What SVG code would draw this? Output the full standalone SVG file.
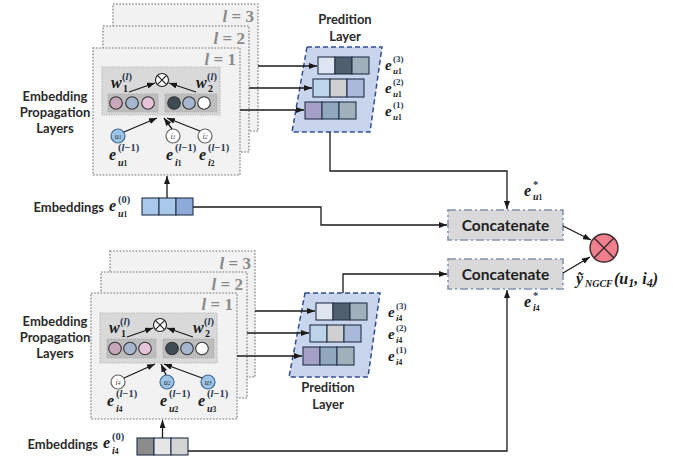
<svg xmlns="http://www.w3.org/2000/svg" width="673" height="465" viewBox="0 0 673 465">
  <defs>
    <marker id="arr" viewBox="0 0 8 6" refX="8" refY="3" markerWidth="8" markerHeight="6" markerUnits="userSpaceOnUse" orient="auto">
      <path d="M0,0 L8,3 L0,6 z" fill="#1a1a1a"/>
    </marker>
    <style>
      .lbl { font-family: Lato, "Open Sans", sans-serif; font-weight: bold; font-size: 13px; fill: #2b2b2b; }
      .cat { font-family: Lato, "Open Sans", sans-serif; font-weight: bold; font-size: 15.5px; fill: #1f1f1f; }
      .layer { fill: #f2f2f2; stroke: #9a9a9a; stroke-width: 1.6; stroke-dasharray: 1.6 1.6; }
      .lnum { font-family: "Liberation Serif", serif; font-weight: bold; font-size: 17px; fill: #8a8a8a; }
      .panel { fill: #d9d9d9; stroke: #b4b4b4; stroke-width: 1.2; stroke-dasharray: 1.2 1.2; }
      .sub { fill: #bdbdbd; stroke: #a8a8a8; stroke-width: 1; stroke-dasharray: 1 1; }
      .dot { stroke: #333; stroke-width: 1.1; }
      .node { stroke-width: 1.2; }
      .nu { fill: #9dc3e6; stroke: #3f6a95; }
      .ni { fill: #ffffff; stroke: #666; }
      .nt { font-family: "Liberation Serif", serif; font-style: italic; font-size: 8px; fill: #333; text-anchor: middle; }
      .ox { fill: #fff; stroke: #222; stroke-width: 1.2; }
      .oxl { stroke: #222; stroke-width: 1.2; }
      .cell { stroke: #24324a; stroke-width: 1.1; }
      .pred { fill: #c8d5ec; stroke: #2f4f8f; stroke-width: 1.5; stroke-dasharray: 5 3; }
      .concat { fill: #d9d9d9; stroke: #8293ad; stroke-width: 1.6; stroke-dasharray: 8 3 2 3; }
      .wire { fill: none; stroke: #1a1a1a; stroke-width: 1.3; }
      .e { font-family: "Liberation Serif", serif; font-style: italic; font-weight: bold; font-size: 16px; fill: #1a1a1a; }
      .sp { font-family: "Liberation Serif", serif; font-weight: bold; font-size: 10.5px; fill: #2c3a55; }
      .sb { font-family: "Liberation Serif", serif; font-style: italic; font-weight: bold; font-size: 10px; fill: #1a1a1a; }
      .pe { font-size: 15px; }
      .ps { font-size: 9px; }
      .it { font-style: italic; }
      .s2 { font-size: 7.5px; font-style: normal; }
    </style>
  </defs>

  <!-- user-side propagation layers -->
  <g id="user-layers">
    <rect class="layer" x="113" y="4" width="145" height="127"/>
    <text class="lnum" x="254" y="22" text-anchor="end"><tspan class="it">l</tspan> = 3</text>
    <rect class="layer" x="103" y="26" width="146" height="126"/>
    <text class="lnum" x="245" y="44" text-anchor="end"><tspan class="it">l</tspan> = 2</text>
    <rect class="layer" x="93" y="48" width="147" height="127"/>
    <text class="lnum" x="236" y="65" text-anchor="end"><tspan class="it">l</tspan> = 1</text>

    <rect class="panel" x="102" y="67" width="118" height="48"/>
    <rect class="sub" x="108" y="94" width="50" height="18"/>
    <rect class="sub" x="165" y="94" width="52" height="18"/>
    <circle class="dot" cx="116" cy="103" r="6.3" fill="#c9a7b9"/>
    <circle class="dot" cx="132" cy="103" r="6.3" fill="#a7b7cf"/>
    <circle class="dot" cx="148" cy="103" r="6.3" fill="#e6c3d9"/>
    <circle class="dot" cx="174" cy="103" r="6.3" fill="#3f4b53"/>
    <circle class="dot" cx="189" cy="103" r="6.3" fill="#a7b7cf"/>
    <circle class="dot" cx="204" cy="103" r="6.3" fill="#ffffff"/>

    <circle class="ox" cx="162" cy="80" r="6.5"/>
    <path class="oxl" d="M157.4,75.4 L166.6,84.6 M166.6,75.4 L157.4,84.6"/>
    <text class="e" x="111" y="88">w</text>
    <text class="sp" x="122" y="80">(<tspan class="it">l</tspan>)</text>
    <text class="sb" x="123" y="92"><tspan font-style="normal">1</tspan></text>
    <text class="e" x="196" y="88">w</text>
    <text class="sp" x="207" y="80">(<tspan class="it">l</tspan>)</text>
    <text class="sb" x="208" y="92"><tspan font-style="normal">2</tspan></text>
    <path class="wire" d="M129,92 L155,83" marker-end="url(#arr)"/>
    <path class="wire" d="M196,92 L169,83" marker-end="url(#arr)"/>

    <circle class="node nu" cx="118" cy="136" r="7"/>
    <text class="nt" x="118" y="139">u<tspan font-size="5.5">1</tspan></text>
    <circle class="node ni" cx="173" cy="136" r="7"/>
    <text class="nt" x="173" y="139">i<tspan font-size="5.5">1</tspan></text>
    <circle class="node ni" cx="205" cy="136" r="7"/>
    <text class="nt" x="205" y="139">i<tspan font-size="5.5">2</tspan></text>
    <path class="wire" d="M124,132 L157,118" marker-end="url(#arr)"/>
    <path class="wire" d="M172,129 L164,118" marker-end="url(#arr)"/>
    <path class="wire" d="M200,131 L167,118" marker-end="url(#arr)"/>

    <text class="e" x="109" y="160">e</text>
    <text class="sp" x="118" y="151">(<tspan class="it">l</tspan>−1)</text>
    <text class="sb" x="118" y="166">u<tspan class="s2">1</tspan></text>
    <text class="e" x="166" y="160">e</text>
    <text class="sp" x="175" y="151">(<tspan class="it">l</tspan>−1)</text>
    <text class="sb" x="175" y="166">i<tspan class="s2">1</tspan></text>
    <text class="e" x="199" y="160">e</text>
    <text class="sp" x="208" y="151">(<tspan class="it">l</tspan>−1)</text>
    <text class="sb" x="208" y="166">i<tspan class="s2">2</tspan></text>
  </g>

  <g id="user-layers-label">
    <text class="lbl" x="55" y="101" text-anchor="middle">Embedding</text>
    <text class="lbl" x="55" y="117" text-anchor="middle">Propagation</text>
    <text class="lbl" x="55" y="133" text-anchor="middle">Layers</text>
  </g>

  <!-- user initial embedding -->
  <g id="user-embedding">
    <text class="lbl" x="104" y="212" text-anchor="end">Embeddings</text>
    <text class="e" x="109" y="211">e</text>
    <text class="sp" x="118" y="203">(0)</text>
    <text class="sb" x="118" y="217">u<tspan class="s2">1</tspan></text>
    <rect class="cell" x="142" y="198" width="17" height="17" fill="#a9c9eb"/>
    <rect class="cell" x="159" y="198" width="17" height="17" fill="#a9c9eb"/>
    <rect class="cell" x="176" y="198" width="17" height="17" fill="#8eaad9"/>
  </g>

  <!-- user prediction layer -->
  <g id="user-prediction">
    <text class="lbl" x="345" y="24" text-anchor="middle">Predition</text>
    <text class="lbl" x="345" y="41" text-anchor="middle">Layer</text>
    <polygon class="pred" points="307,47 382,47 370,132 292,132"/>
    <rect class="cell" x="318" y="57" width="17" height="17" fill="#dde5f0"/>
    <rect class="cell" x="335" y="57" width="17" height="17" fill="#4f5f6d"/>
    <rect class="cell" x="352" y="57" width="17" height="17" fill="#9fb0bb"/>
    <rect class="cell" x="313" y="79" width="17" height="18" fill="#bed6ec"/>
    <rect class="cell" x="330" y="79" width="17" height="18" fill="#cfcfcf"/>
    <rect class="cell" x="347" y="79" width="17" height="18" fill="#a9b9d9"/>
    <rect class="cell" x="305" y="102" width="17" height="17" fill="#a69fc8"/>
    <rect class="cell" x="322" y="102" width="17" height="17" fill="#8fa8be"/>
    <rect class="cell" x="339" y="102" width="17" height="17" fill="#a0b1bb"/>
    <text class="e pe" x="385" y="70">e</text>
    <text class="sp ps" x="393" y="62">(3)</text>
    <text class="sb ps" x="393" y="74">u<tspan class="s2">1</tspan></text>
    <text class="e pe" x="385" y="93">e</text>
    <text class="sp ps" x="393" y="85">(2)</text>
    <text class="sb ps" x="393" y="97">u<tspan class="s2">1</tspan></text>
    <text class="e pe" x="385" y="116">e</text>
    <text class="sp ps" x="393" y="108">(1)</text>
    <text class="sb ps" x="393" y="120">u<tspan class="s2">1</tspan></text>
  </g>

  <!-- item-side propagation layers -->
  <g id="item-layers">
    <rect class="layer" x="110" y="251" width="145" height="126"/>
    <text class="lnum" x="251" y="269" text-anchor="end"><tspan class="it">l</tspan> = 3</text>
    <rect class="layer" x="101" y="272" width="146" height="126"/>
    <text class="lnum" x="243" y="290" text-anchor="end"><tspan class="it">l</tspan> = 2</text>
    <rect class="layer" x="91" y="293" width="146" height="126"/>
    <text class="lnum" x="233" y="310" text-anchor="end"><tspan class="it">l</tspan> = 1</text>

    <rect class="panel" x="100" y="313" width="117" height="50"/>
    <rect class="sub" x="107" y="339" width="49" height="19"/>
    <rect class="sub" x="163" y="339" width="51" height="19"/>
    <circle class="dot" cx="115" cy="348.5" r="6.3" fill="#c9a7b9"/>
    <circle class="dot" cx="130" cy="348.5" r="6.3" fill="#a7b7cf"/>
    <circle class="dot" cx="145" cy="348.5" r="6.3" fill="#e6c3d9"/>
    <circle class="dot" cx="172" cy="348.5" r="6.3" fill="#3f4b53"/>
    <circle class="dot" cx="187" cy="348.5" r="6.3" fill="#a7b7cf"/>
    <circle class="dot" cx="202" cy="348.5" r="6.3" fill="#ffffff"/>

    <circle class="ox" cx="160" cy="325" r="6.5"/>
    <path class="oxl" d="M155.4,320.4 L164.6,329.6 M164.6,320.4 L155.4,329.6"/>
    <text class="e" x="109" y="333">w</text>
    <text class="sp" x="120" y="325">(<tspan class="it">l</tspan>)</text>
    <text class="sb" x="121" y="337"><tspan font-style="normal">1</tspan></text>
    <text class="e" x="193" y="333">w</text>
    <text class="sp" x="204" y="325">(<tspan class="it">l</tspan>)</text>
    <text class="sb" x="205" y="337"><tspan font-style="normal">2</tspan></text>
    <path class="wire" d="M127,337 L153,328" marker-end="url(#arr)"/>
    <path class="wire" d="M193,337 L167,328" marker-end="url(#arr)"/>

    <circle class="node ni" cx="118" cy="382" r="7"/>
    <text class="nt" x="118" y="385">i<tspan font-size="5.5">4</tspan></text>
    <circle class="node nu" cx="167" cy="382" r="7"/>
    <text class="nt" x="167" y="385">u<tspan font-size="5.5">2</tspan></text>
    <circle class="node nu" cx="208" cy="382" r="7"/>
    <text class="nt" x="208" y="385">u<tspan font-size="5.5">3</tspan></text>
    <path class="wire" d="M124,378 L155,364" marker-end="url(#arr)"/>
    <path class="wire" d="M166,375 L161,364" marker-end="url(#arr)"/>
    <path class="wire" d="M202,378 L164,364" marker-end="url(#arr)"/>

    <text class="e" x="107" y="406">e</text>
    <text class="sp" x="116" y="397">(<tspan class="it">l</tspan>−1)</text>
    <text class="sb" x="116" y="412">i<tspan class="s2">4</tspan></text>
    <text class="e" x="160" y="406">e</text>
    <text class="sp" x="169" y="397">(<tspan class="it">l</tspan>−1)</text>
    <text class="sb" x="169" y="412">u<tspan class="s2">2</tspan></text>
    <text class="e" x="198" y="406">e</text>
    <text class="sp" x="207" y="397">(<tspan class="it">l</tspan>−1)</text>
    <text class="sb" x="207" y="412">u<tspan class="s2">3</tspan></text>
  </g>

  <g id="item-layers-label">
    <text class="lbl" x="55" y="326" text-anchor="middle">Embedding</text>
    <text class="lbl" x="55" y="342" text-anchor="middle">Propagation</text>
    <text class="lbl" x="55" y="358" text-anchor="middle">Layers</text>
  </g>

  <!-- item initial embedding -->
  <g id="item-embedding">
    <text class="lbl" x="98" y="449" text-anchor="end">Embeddings</text>
    <text class="e" x="103" y="448">e</text>
    <text class="sp" x="112" y="440">(0)</text>
    <text class="sb" x="112" y="454">i<tspan class="s2">4</tspan></text>
    <rect class="cell" x="137" y="438" width="17" height="17" fill="#8c8c8c" stroke="#333"/>
    <rect class="cell" x="154" y="438" width="17" height="17" fill="#e6e6e6" stroke="#333"/>
    <rect class="cell" x="171" y="438" width="17" height="17" fill="#d4d4d4" stroke="#333"/>
  </g>

  <!-- item prediction layer -->
  <g id="item-prediction">
    <polygon class="pred" points="305,293 380,293 368,377 289,377"/>
    <rect class="cell" x="316" y="303" width="17" height="17" fill="#e0e6f0"/>
    <rect class="cell" x="333" y="303" width="17" height="17" fill="#4f5f6d"/>
    <rect class="cell" x="350" y="303" width="17" height="17" fill="#a0b0bb"/>
    <rect class="cell" x="310" y="325" width="17" height="17" fill="#bcd4ea"/>
    <rect class="cell" x="327" y="325" width="17" height="17" fill="#d0d0d0"/>
    <rect class="cell" x="344" y="325" width="17" height="17" fill="#a9b9d9"/>
    <rect class="cell" x="303" y="347" width="17" height="18" fill="#a69fc8"/>
    <rect class="cell" x="320" y="347" width="17" height="18" fill="#8fa8be"/>
    <rect class="cell" x="337" y="347" width="17" height="18" fill="#a0b1bb"/>
    <text class="e pe" x="388" y="317">e</text>
    <text class="sp ps" x="396" y="309">(3)</text>
    <text class="sb ps" x="396" y="321">i<tspan class="s2">4</tspan></text>
    <text class="e pe" x="388" y="339">e</text>
    <text class="sp ps" x="396" y="331">(2)</text>
    <text class="sb ps" x="396" y="343">i<tspan class="s2">4</tspan></text>
    <text class="e pe" x="388" y="361">e</text>
    <text class="sp ps" x="396" y="353">(1)</text>
    <text class="sb ps" x="396" y="365">i<tspan class="s2">4</tspan></text>
    <text class="lbl" x="328" y="392" text-anchor="middle">Predition</text>
    <text class="lbl" x="328" y="409" text-anchor="middle">Layer</text>
  </g>

  <!-- concatenation and scoring -->
  <g id="concat-user">
    <rect class="concat" x="448" y="210" width="115" height="30"/>
    <text class="cat" x="505.5" y="231" text-anchor="middle">Concatenate</text>
  </g>
  <g id="concat-item">
    <rect class="concat" x="448" y="259" width="115" height="30"/>
    <text class="cat" x="505.5" y="280" text-anchor="middle">Concatenate</text>
  </g>
  <g id="score">
    <circle cx="604" cy="248" r="14" fill="#f07f8d" stroke="#3a2a2d" stroke-width="1.4"/>
    <path d="M594.1,238.1 L613.9,257.9 M613.9,238.1 L594.1,257.9" stroke="#3a2a2d" stroke-width="1.4"/>
    <text class="e" x="576" y="284" font-size="19">ỹ</text>
    <text class="sb" x="585" y="287" font-size="9.5">NGCF</text>
    <text class="e" x="614" y="284" font-size="19">(u<tspan font-size="12" dy="3">1</tspan><tspan dy="-3">, </tspan>i<tspan font-size="12" dy="3">4</tspan><tspan dy="-3">)</tspan></text>
  </g>
  <g id="final-labels">
    <text class="e" x="524" y="196">e</text>
    <text class="sp" x="533" y="188" font-size="8">*</text>
    <text class="sb" x="533" y="200">u<tspan class="s2">1</tspan></text>
    <text class="e" x="524" y="307">e</text>
    <text class="sp" x="533" y="299" font-size="8">*</text>
    <text class="sb" x="533" y="311">i<tspan class="s2">4</tspan></text>
  </g>

  <!-- connectors -->
  <g id="connectors">
    <path class="wire" d="M258,66 L317,66" marker-end="url(#arr)"/>
    <path class="wire" d="M249,88 L312,88" marker-end="url(#arr)"/>
    <path class="wire" d="M240,110 L304,110" marker-end="url(#arr)"/>
    <path class="wire" d="M167,198 L167,176" marker-end="url(#arr)"/>
    <path class="wire" d="M193,207 L321,207 L321,225 L447,225" marker-end="url(#arr)"/>
    <path class="wire" d="M330,132 L330,171 L507,171 L507,209" marker-end="url(#arr)"/>

    <path class="wire" d="M255,311 L315,311" marker-end="url(#arr)"/>
    <path class="wire" d="M247,333 L309,333" marker-end="url(#arr)"/>
    <path class="wire" d="M237,356 L302,356" marker-end="url(#arr)"/>
    <path class="wire" d="M162.5,438 L162.5,420" marker-end="url(#arr)"/>
    <path class="wire" d="M188,451 L507,451 L507,290" stroke="#444" stroke-width="1.6" marker-end="url(#arr)"/>
    <path class="wire" d="M343,293 L343,274 L447,274" marker-end="url(#arr)"/>

    <path class="wire" d="M563,226 L591,240" marker-end="url(#arr)"/>
    <path class="wire" d="M563,273 L590,257" marker-end="url(#arr)"/>
  </g>
</svg>
